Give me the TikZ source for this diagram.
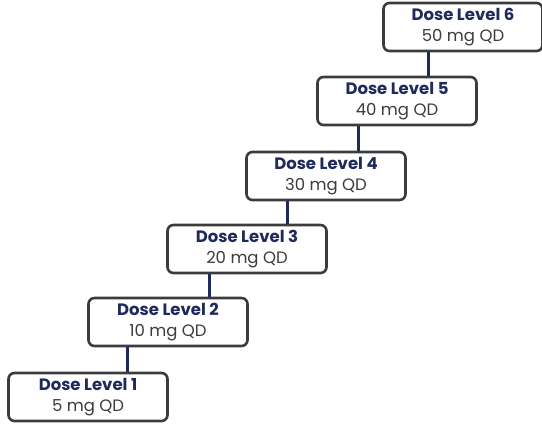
\documentclass[tikz,border=0pt]{standalone}
\usepackage{fontspec}
\setmainfont{Poppins}
\usepackage{tikz}
\definecolor{navy}{HTML}{1F2A5C}
\definecolor{boxgray}{HTML}{3C3C3C}

\begin{document}
\begin{tikzpicture}[x=1pt, y=1pt,
	level/.style={draw=boxgray, line width=2.6pt, rounded corners=6pt, fill=white,
		minimum width=159pt, minimum height=48pt, align=center, inner sep=0pt,
		font=\fontsize{16.5}{21.5}\selectfont, text=boxgray},
	link/.style={draw=navy, line width=2.8pt}]
		
		\useasboundingbox (0,0) rectangle (542,425);
		
		% Dose levels
		\node[level] (d1) at (88,28) {\textbf{\textcolor{navy}{Dose Level 1}}\\5 mg QD};
		\node[level] (d2) at (168,103) {\textbf{\textcolor{navy}{Dose Level 2}}\\10 mg QD};
		\node[level] (d3) at (247,176) {\textbf{\textcolor{navy}{Dose Level 3}}\\20 mg QD};
		\node[level] (d4) at (326,249) {\textbf{\textcolor{navy}{Dose Level 4}}\\30 mg QD};
		\node[level] (d5) at (397,324) {\textbf{\textcolor{navy}{Dose Level 5}}\\40 mg QD};
		\node[level] (d6) at (463,398) {\textbf{\textcolor{navy}{Dose Level 6}}\\50 mg QD};
		
		% Steps between levels
		\draw[link] ([xshift=-41pt]d1.north east) -- ([xshift=-41pt]d1.north east |- d2.south);
		\draw[link] ([xshift=-39pt]d2.north east) -- ([xshift=-39pt]d2.north east |- d3.south);
		\draw[link] ([xshift=-40pt]d3.north east) -- ([xshift=-40pt]d3.north east |- d4.south);
		\draw[link] ([xshift=-48pt]d4.north east) -- ([xshift=-48pt]d4.north east |- d5.south);
		\draw[link] ([xshift=-49pt]d5.north east) -- ([xshift=-49pt]d5.north east |- d6.south);
		
	\end{tikzpicture}
\end{document}
